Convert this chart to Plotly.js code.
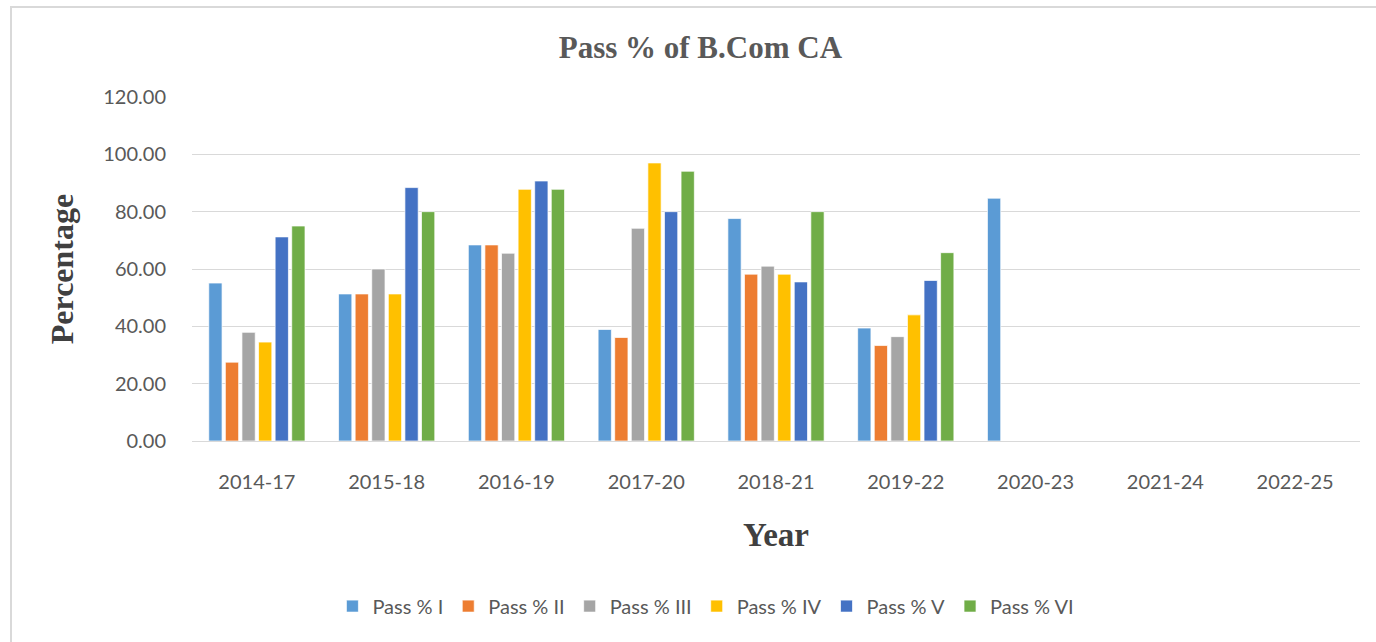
<!DOCTYPE html>
<html>
<head>
<meta charset="utf-8">
<script src="https://cdn.plot.ly/plotly-3.0.1.min.js"></script>
<style>
  html, body { margin: 0; padding: 0; background: #fff; }
  #wrap { position: relative; width: 1376px; height: 642px; overflow: hidden; }
  #chart { position: absolute; left: 0; top: 0; width: 1376px; height: 642px; }
  #frame { position: absolute; left: 10px; top: 6px; width: 1400px; height: 700px;
           border: 2px solid #d9d9d9; box-sizing: border-box; pointer-events: none; }
</style>
</head>
<body>
<div id="wrap">
  <div id="chart"></div>
  <div id="frame"></div>
</div>
<script>
const years = ["2014-17", "2015-18", "2016-19", "2017-20", "2018-21", "2019-22", "2020-23", "2021-24", "2022-25"];
const passI   = [55.1, 51.3, 68.4, 38.9, 77.6, 39.4, 84.7, null, null];
const passII  = [27.5, 51.3, 68.4, 36.1, 58.2, 33.3, null, null, null];
const passIII = [37.9, 60.0, 65.5, 74.2, 61.0, 36.4, null, null, null];
const passIV  = [34.5, 51.3, 87.8, 97.0, 58.2, 44.0, null, null, null];
const passV   = [71.2, 88.4, 90.7, 80.0, 55.5, 56.0, null, null, null];
const passVI  = [75.0, 80.0, 87.8, 94.1, 80.0, 65.7, null, null, null];
const seriesNames = ["Pass % I", "Pass % II", "Pass % III", "Pass % IV", "Pass % V", "Pass % VI"];
const yTicks = [0, 20, 40, 60, 80, 100, 120];

const seriesData = [passI, passII, passIII, passIV, passV, passVI];
const colors = ["#5B9BD5", "#ED7D31", "#A5A5A5", "#FFC000", "#4472C4", "#70AD47"];

const traces = seriesData.map((vals, i) => ({
  type: "bar",
  name: seriesNames[i],
  x: years,
  y: vals,
  marker: { color: colors[i], line: { color: "rgba(255,255,255,0.7)", width: 1 } },
  hoverinfo: "x+y+name"
}));

const tickFont = { family: "Lato, 'Open Sans', sans-serif", size: 20, color: "#595959" };
const serif = "'Liberation Serif', 'Times New Roman', serif";

const layout = {
  width: 1376,
  height: 642,
  paper_bgcolor: "rgba(0,0,0,0)",
  plot_bgcolor: "#fff",
  margin: { l: 192, r: 16, t: 97, b: 201 },
  barmode: "group",
  bargap: 0.233,
  bargroupgap: 0.2,
  title: {
    text: "Pass % of B.Com CA",
    font: { family: serif, size: 31, color: "#595959", weight: "bold" },
    x: 0.509, xref: "container", xanchor: "center",
    y: 0.927, yref: "container", yanchor: "middle"
  },
  xaxis: {
    type: "category",
    categoryorder: "array",
    categoryarray: years,
    tickfont: tickFont,
    showgrid: false,
    showline: true,
    linecolor: "#d9d9d9",
    linewidth: 1,
    ticks: "",
    ticklabelstandoff: 23,
    title: {
      text: "Year",
      font: { family: serif, size: 33, color: "#404040", weight: "bold" },
      standoff: 30
    }
  },
  yaxis: {
    range: [0, 120],
    tickvals: yTicks,
    ticktext: yTicks.map(v => v.toFixed(2)),
    tickfont: tickFont,
    showgrid: true,
    gridcolor: "#d9d9d9",
    gridwidth: 1,
    zeroline: false,
    showline: false,
    ticks: "",
    ticklabelstandoff: 25,
    title: {
      text: "Percentage",
      font: { family: serif, size: 32, color: "#404040", weight: "bold" },
      standoff: 20
    }
  },
  legend: {
    orientation: "h",
    x: 0.44, xanchor: "center",
    y: -0.48, yanchor: "middle",
    font: { family: "Lato, 'Open Sans', sans-serif", size: 20, color: "#595959" },
    itemwidth: 30,
    traceorder: "normal"
  },
  showlegend: true
};

Plotly.newPlot("chart", traces, layout, { displayModeBar: false, responsive: false });
</script>
</body>
</html>
